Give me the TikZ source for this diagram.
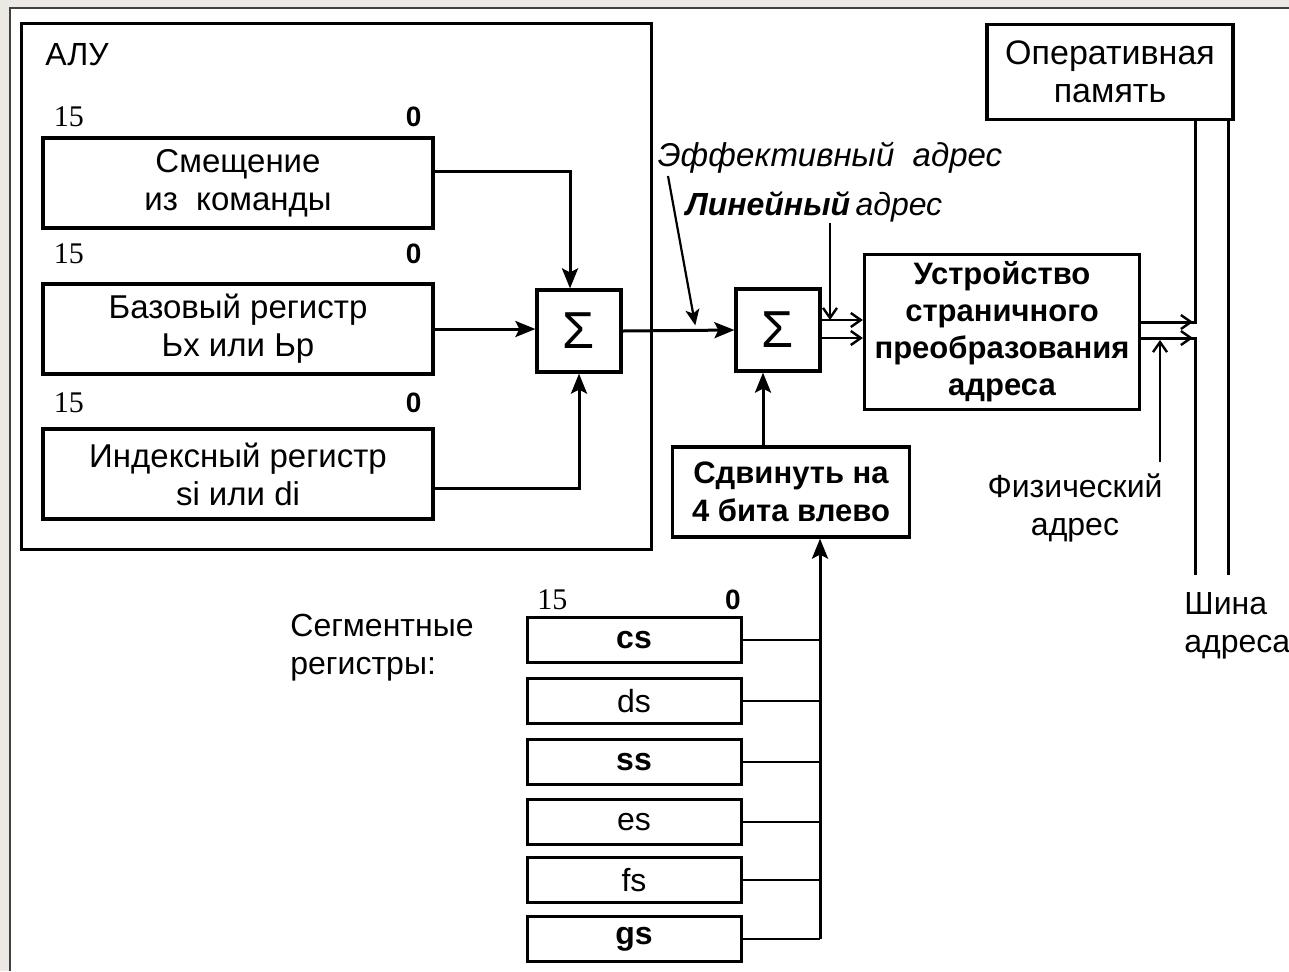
\documentclass[tikz,border=0pt]{standalone}
\usepackage{fontspec}
\setmainfont{Liberation Sans}
\newfontfamily\numfont{Liberation Serif}
\usepackage{tikz}
\usetikzlibrary{positioning, arrows.meta, calc}
\definecolor{framegray}{HTML}{ECE8E3}

\tikzset{
  regbox/.style={draw, line width=1.6pt, minimum width=195pt, minimum height=45pt,
                 inner sep=0pt, align=center, font=\fontsize{16.5}{19}\selectfont},
  sumbox/.style={draw, line width=1.6pt, minimum width=42pt, minimum height=41pt,
                 inner sep=0pt, font=\fontsize{26}{26}\selectfont},
  unitbox/.style={draw, line width=1.6pt, inner sep=0pt, align=center},
  segbox/.style={draw, line width=1.5pt, minimum width=107pt, minimum height=22.5pt,
                 inner sep=0pt},
  bitnum/.style={inner sep=0pt, font=\numfont\fontsize{15}{15}\selectfont},
  bitzero/.style={inner sep=0pt, font=\bfseries\fontsize{14}{14}\selectfont},
  lbl/.style={inner sep=0pt, align=center, font=\fontsize{16}{19}\selectfont},
  wire/.style={line width=1.5pt},
  arr/.style={wire, -{Stealth[length=10pt, width=8pt, inset=2pt]}},
  ptr/.style={line width=1.1pt, -{Stealth[length=8pt, width=7pt, inset=2pt]}},
  barb/.style={line width=1.2pt, -{Straight Barb[length=5pt, width=7pt]}},
}

\begin{document}
\begin{tikzpicture}[x=0.5pt, y=-0.5pt]
\useasboundingbox (0,0) rectangle (1289,971);
% page frame
\fill[framegray] (0,0) rectangle (1289,971);
\fill[white] (10,8) rectangle (1289,971);
\draw[line width=0.8pt, black!75] (10,971) -- (10,8) -- (1289,8);

% ALU
\node[draw, line width=1.6pt, minimum width=315pt, minimum height=263pt,
      anchor=north west] (alu) at (20,22) {};
\node[lbl, anchor=west] (alutxt) at (45,55) {АЛУ};

\node[regbox] (disp) at (238,183) {Смещение\\из~~команды};
\node[regbox] (base) at (238,329) {Базовый регистр\\Ьх или Ьр};
\node[regbox] (index) at (238,474) {Индексный регистр\\si или di};

\node[bitnum, anchor=south west] (d15) at ($(disp.north west)+(12,-9)$) {15};
\node[bitzero, anchor=south] (d0) at ($(disp.north east)+(-21,-9)$) {0};
\node[bitnum, anchor=south west] (b15) at ($(base.north west)+(12,-18)$) {15};
\node[bitzero, anchor=south] (b0) at ($(base.north east)+(-21,-18)$) {0};
\node[bitnum, anchor=south west] (i15) at ($(index.north west)+(12,-14)$) {15};
\node[bitzero, anchor=south] (i0) at ($(index.north east)+(-21,-14)$) {0};

\node[sumbox] (sum1) at (579,331) {Σ};
\node[sumbox] (sum2) at (778,330) {Σ};

% paging, memory, shift
\node[unitbox, minimum width=137.5pt, minimum height=77.5pt,
      font=\bfseries\fontsize{15.5}{18.5}\selectfont] (paging) at (1002,332)
      {Устройство\\страничного\\преобразования\\адреса};
\node[unitbox, minimum width=123pt, minimum height=47.5pt,
      font=\fontsize{17}{19}\selectfont] (ram) at (1110,72)
      {Оперативная\\память};
\node[unitbox, minimum width=118.5pt, minimum height=45pt,
      font=\bfseries\fontsize{15.5}{19}\selectfont] (shift) at (791,492)
      {Сдвинуть на\\4 бита влево};

% labels
\node[lbl, font=\itshape\fontsize{16.5}{19}\selectfont] (eff) at (830,158)
      {Эффективный\ \ адрес};
\node[lbl, font=\itshape\fontsize{16}{19}\selectfont] (lin) at (814,207)
      {\bfseries Линейный\,\mdseries адрес};
\node[lbl] (phys) at (1075,508) {Физический\\адрес};
\node[lbl, align=left, anchor=west] (bus) at (1184,626) {Шина\\адреса};
\node[lbl, align=left, anchor=west] (segtxt) at (290,648) {Сегментные\\регистры:};

% segment registers
\node[bitnum, anchor=south west] (s15) at (537,610) {15};
\node[bitzero, anchor=south] (s0) at (733,610) {0};
\foreach \sreg/\yy/\sfont in {cs/640/\bfseries, ds/701/, ss/762/\bfseries,
                               es/822/, fs/880/, gs/939/\bfseries}
  \node[segbox, font=\sfont\fontsize{16}{16}\selectfont] (\sreg) at (634,\yy) {\sreg};

\coordinate (segbus) at (820,939);
\coordinate (railL) at (1195,575);
\coordinate (railR) at (1228,575);
\coordinate (physpt) at (1160,462);

% inside ALU
\draw[arr] ([yshift=6pt]disp.east) -| ([xshift=-4.5pt]sum1.north);
\draw[arr] (base.east) -- (base.east -| sum1.west);
\draw[arr] ([yshift=-7pt]index.east) -| (sum1.south);
\draw[arr] (sum1.east) -- (sum2.west);

% address labels
\draw[ptr] ([xshift=-81pt, yshift=-1pt]eff.south) -- ($(sum1.east)!0.65!(sum2.west)+(0,-5)$);
\draw[barb] ([xshift=8pt]lin.south) -- ([xshift=8pt, yshift=5pt]lin.south |- sum2.east);

% sum2 -> paging
\draw[barb] ([yshift=5pt]sum2.east) -- ([yshift=5pt]sum2.east -| paging.west);
\draw[barb] ([yshift=-4pt]sum2.east) -- ([yshift=-4pt]sum2.east -| paging.west);

% paging -> memory / bus
\draw[wire] (ram.south -| railL) -- ([yshift=5pt]paging.east -| railL)
            -- ([yshift=5pt]paging.east);
\draw[barb] ([yshift=5pt]paging.east) -- ([yshift=5pt, xshift=-1pt]paging.east -| railL);
\draw[wire] (railL) -- ([yshift=-3pt]paging.east -| railL) -- ([yshift=-3pt]paging.east);
\draw[barb] ([yshift=-3pt]paging.east) -- ([yshift=-3pt, xshift=-1pt]paging.east -| railL);
\draw[wire] (ram.south -| railR) -- (railR);
\draw[barb] (physpt) -- ([yshift=-4pt]physpt |- paging.east);

% shift
\draw[arr] ([xshift=-7.5pt]shift.north -| sum2.south) -- ([xshift=-7.5pt]sum2.south);
\draw[arr] (segbus) -- (shift.south -| segbus);
\foreach \sreg in {cs, ds, ss, es, fs, gs}
  \draw[line width=1.1pt] (\sreg.east) -- (\sreg.east -| segbus);
\end{tikzpicture}
\end{document}
